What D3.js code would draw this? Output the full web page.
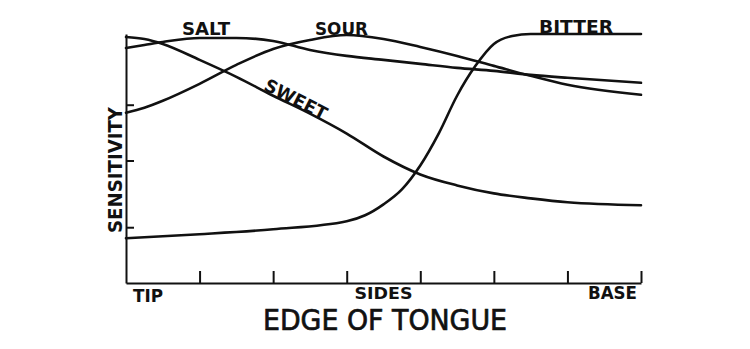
<!DOCTYPE html>
<html>
<head>
<meta charset="utf-8">
<script src="https://cdn.jsdelivr.net/npm/d3@7"></script>
<style>
body{margin:0;background:#fff;}
text{font-family:"DejaVu Sans",sans-serif;font-weight:bold;fill:#111;}
</style>
</head>
<body>
<svg id="tasteChart" width="750" height="349"></svg>
<script>
// position along the edge of the tongue: 0 = tip, 7 = base
var positions = [0, 0.25, 0.5, 1, 1.5, 2, 2.5, 3, 3.5, 4, 4.5, 5, 5.5, 6, 7];
var sweet = [98.8, 98, 96, 89.6, 82.8, 75.2, 68, 60, 50.8, 43.6, 39.2, 36, 34, 32.4, 31.2];
var salt  = [94.4, 95.6, 96.8, 98.4, 98.4, 97.2, 93.6, 91.2, 89.6, 88, 86.4, 85.2, 83.6, 82.4, 80.4];
var sour  = [68.4, 70.4, 73.2, 80, 87.6, 94, 97.6, 99.6, 98, 94.8, 91.2, 87.2, 83.2, 79.6, 75.6];
var bitterPositions = [0, 1, 2, 3, 3.25, 3.5, 3.75, 4, 4.25, 4.5, 4.75, 5, 5.25, 5.5, 6, 7];
var bitter = [18, 19.6, 21.6, 24.8, 27.2, 31.6, 37.6, 47.2, 60, 75.2, 87.2, 96, 99.2, 100, 100, 100];
var xTicks = [1, 2, 3, 4, 5, 6, 7];
var yTicks = [22.4, 49.2, 71.6];
var edgeLabels = ["TIP", "SIDES", "BASE"];

class tasteGraph{
  constructor(){
    this.canvas = d3.select("#tasteChart");
    this.x = d3.scaleLinear().domain([0, 7]).range([126, 641]);
    this.y = d3.scaleLinear().domain([0, 100]).range([283, 34]);
  }

  drawAxes(){
    var xAxis = d3.axisBottom(this.x).tickValues(xTicks).tickSize(-12).tickSizeOuter(0).tickFormat("");
    var yAxis = d3.axisLeft(this.y).tickValues(yTicks).tickSize(-8).tickSizeOuter(0).tickFormat("");
    this.canvas.append('g').attr('class', 'xAxis')
      .attr("transform", "translate(0," + this.y(0) + ")")
      .call(xAxis);
    this.canvas.append('g').attr('class', 'yAxis')
      .attr("transform", "translate(" + this.x(0) + ",0)")
      .call(yAxis);
    this.canvas.selectAll(".xAxis path, .yAxis path, .xAxis line, .yAxis line")
      .style("stroke", "#111")
      .style("stroke-width", 2);
  }

  drawCurve(xs, ys){
    var plot = this;
    var pts = xs.map(function(d, i){ return [d, ys[i]]; });
    var line = d3.line()
      .x(function(d){ return plot.x(d[0]); })
      .y(function(d){ return plot.y(d[1]); })
      .curve(d3.curveMonotoneX);
    this.canvas.append("path")
      .attr("d", line(pts))
      .style("fill", "none")
      .style("stroke", "#111")
      .style("stroke-width", 2.6)
      .style("stroke-linecap", "round");
  }

  label(txt, x, y, size, len, anchor, transform){
    var t = this.canvas.append("text")
      .text(txt)
      .attr("x", x).attr("y", y)
      .style("font-size", size + "px")
      .attr("text-anchor", anchor || "start")
      .attr("textLength", len)
      .attr("lengthAdjust", "spacingAndGlyphs");
    if(transform) t.attr("transform", transform);
    return t;
  }

  update(){
    this.drawAxes();
    this.drawCurve(positions, sweet);
    this.drawCurve(positions, salt);
    this.drawCurve(positions, sour);
    this.drawCurve(bitterPositions, bitter);

    // curve names
    this.label("SALT", 182, 35, 18, 48);
    this.label("SOUR", 315, 35, 18, 53);
    this.label("BITTER", 539, 33, 18, 74);
    this.label("SWEET", 0, 0, 18, 68, "middle", "translate(293,105) rotate(27)");

    // edge of tongue labels
    this.label(edgeLabels[0], this.x(0) + 7, 302, 17, 30);
    this.label(edgeLabels[1], this.x(3.5), 299, 16, 58, "middle");
    this.label(edgeLabels[2], this.x(7) - 4, 299, 17, 49, "end");

    this.label("EDGE OF TONGUE", 263, 330, 28, 244)
      .style("font-weight", "normal")
      .style("stroke", "#111")
      .style("stroke-width", 0.7);
    this.label("SENSITIVITY", 0, 0, 20, 126, "middle", "translate(122,170) rotate(-90)");
  }
}

var chart = new tasteGraph();
chart.update();
</script>
</body>
</html>
